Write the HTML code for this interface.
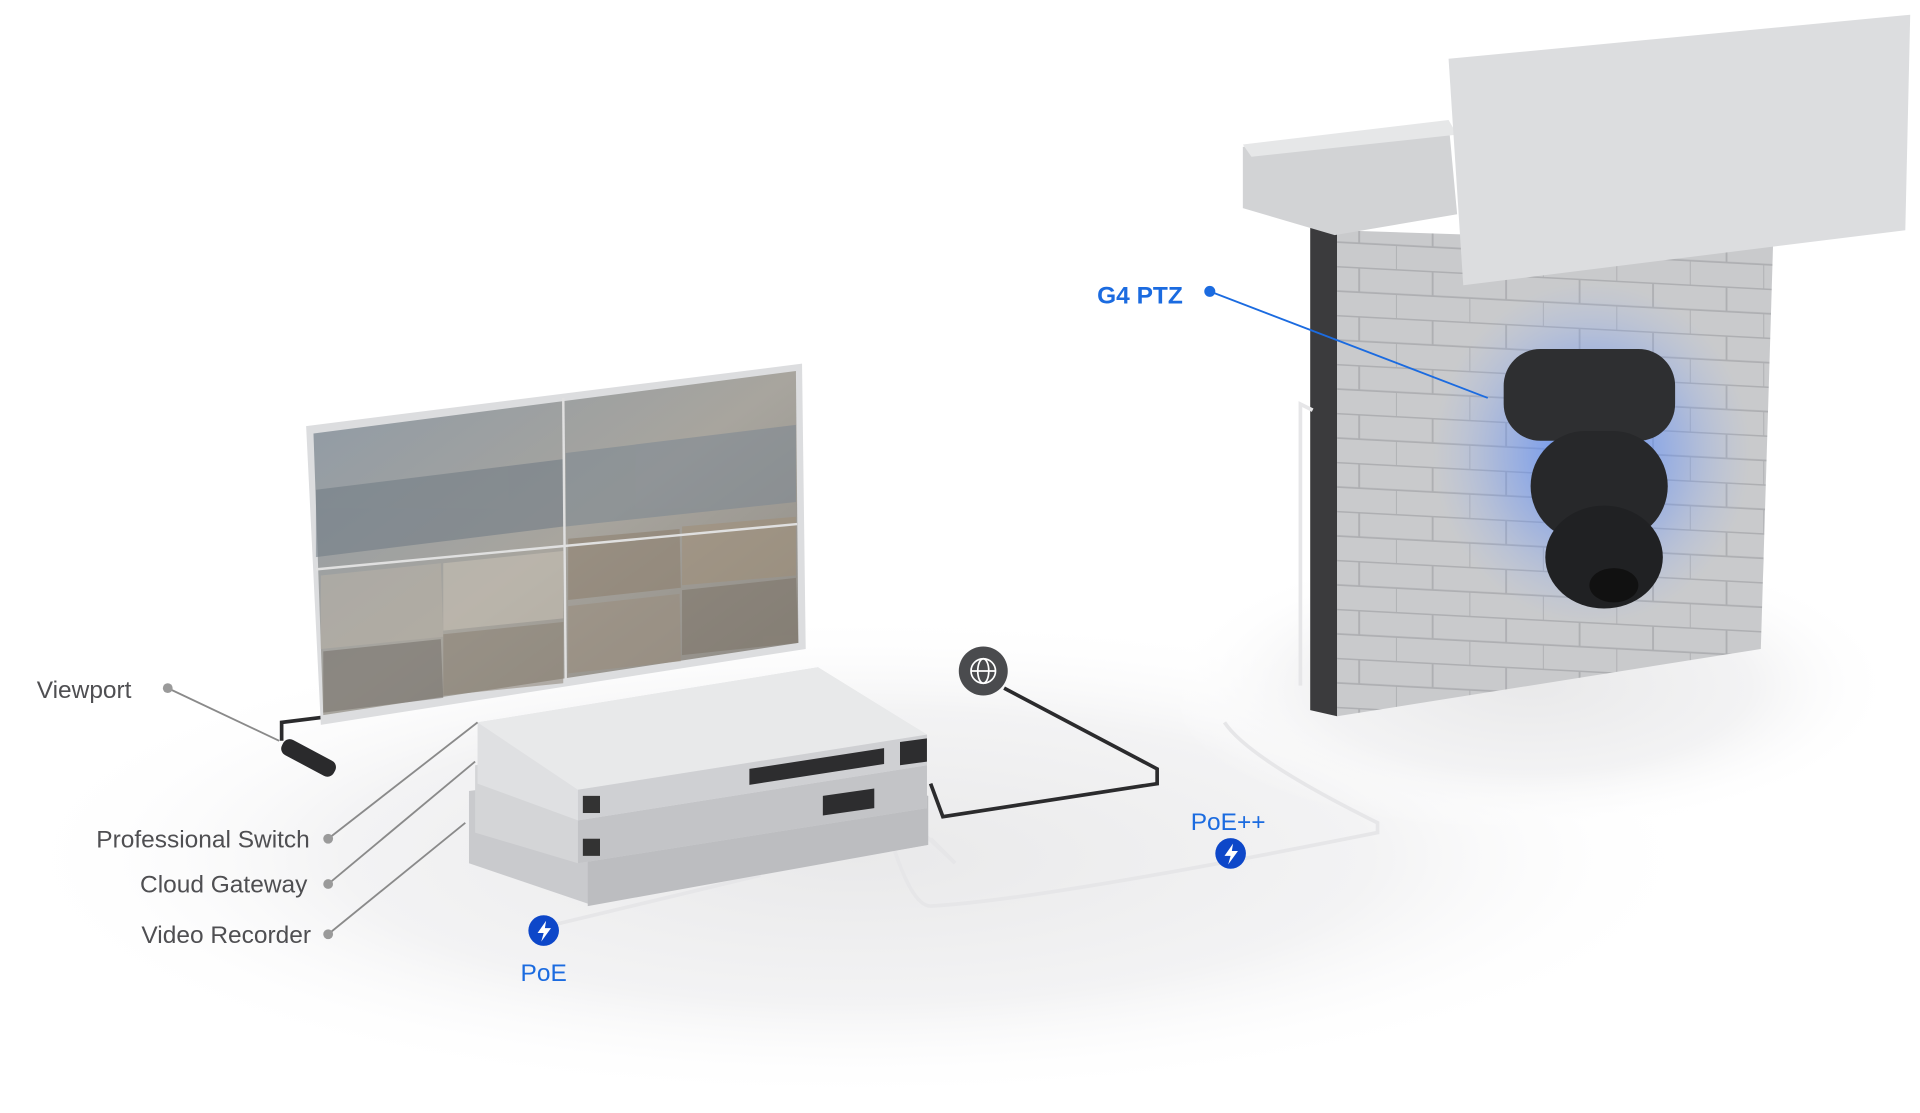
<!DOCTYPE html>
<html><head><meta charset="utf-8">
<style>
html,body{margin:0;padding:0;background:#fff;width:1920px;height:1113px;overflow:hidden}
svg{display:block}
text{font-family:"Liberation Sans",sans-serif}
</style></head>
<body>
<svg width="1920" height="1113" viewBox="0 0 1568 909" preserveAspectRatio="none" xmlns="http://www.w3.org/2000/svg">
<defs>
<radialGradient id="floor" cx="50%" cy="50%" r="50%">
<stop offset="0" stop-color="#e9e9ea"/><stop offset="0.6" stop-color="#f3f3f4"/><stop offset="1" stop-color="#fff" stop-opacity="0"/></radialGradient>
<radialGradient id="glow" cx="50%" cy="50%" r="50%">
<stop offset="0" stop-color="#3d7bff" stop-opacity="0.8"/><stop offset="0.6" stop-color="#5b8cff" stop-opacity="0.3"/><stop offset="1" stop-color="#8fb0ff" stop-opacity="0"/></radialGradient>
<linearGradient id="scr" x1="0" y1="0" x2="1" y2="1"><stop offset="0" stop-color="#8e9aa6"/><stop offset="0.5" stop-color="#a8a59e"/><stop offset="1" stop-color="#8a8680"/></linearGradient>
<pattern id="bricks" width="60" height="40" patternUnits="userSpaceOnUse" patternTransform="skewY(3)">
<rect width="60" height="40" fill="#c9cacc"/>
<path d="M0 0.5H60M0 20.5H60M30 0V20M0 20V40" stroke="#aeafb2" stroke-width="1.5" fill="none"/></pattern>
</defs>
<rect width="1568" height="909" fill="#fff"/>
<ellipse cx="700" cy="700" rx="700" ry="200" fill="url(#floor)"/>
<ellipse cx="1250" cy="560" rx="300" ry="120" fill="url(#floor)"/>

<!-- wall -->
<polygon points="1070,185 1092,188 1092,585 1070,580" fill="#3b3b3d"/>
<polygon points="1092,188 1448,200 1438,530 1092,585" fill="url(#bricks)"/>
<polygon points="1015,120 1183,100 1190,175 1090,192 1015,170" fill="#d2d3d5"/>
<polygon points="1015,118 1183,98 1190,110 1022,128" fill="#e6e7e8"/>
<polygon points="1183,48 1560,12 1556,188 1195,233" fill="#dcdddf"/>

<!-- camera -->
<ellipse cx="1300" cy="370" rx="130" ry="140" fill="url(#glow)"/>
<rect x="1228" y="285" width="140" height="75" rx="30" fill="#2e2f31"/>
<rect x="1250" y="352" width="112" height="90" rx="45" fill="#27282a"/>
<ellipse cx="1310" cy="455" rx="48" ry="42" fill="#202123"/>
<ellipse cx="1318" cy="478" rx="20" ry="14" fill="#111"/>

<!-- cables -->
<path d="M1000,590 Q1020,620 1125,672 L1125,680 Q850,735 760,740 Q740,740 718,650" fill="none" stroke="#e6e6e8" stroke-width="3"/>
<path d="M1062,560 L1062,330 L1072,335" fill="none" stroke="#e6e6e8" stroke-width="3"/>
<path d="M820,562 L945,628 L945,640 L770,667 L760,640" fill="none" stroke="#2b2b2d" stroke-width="3"/>
<path d="M230,605 L230,590 L270,585" fill="none" stroke="#2b2b2d" stroke-width="3"/>
<path d="M445,757 L620,715 L640,650 M700,630 L780,705 L760,685" fill="none" stroke="#e6e6e8" stroke-width="3"/>

<!-- monitor -->
<polygon points="250,348 655,297 658,530 262,592" fill="#dcdddf"/>
<polygon points="256,354 650,303 652,525 264,584" fill="url(#scr)"/>
<g opacity="0.55">
<polygon points="258,400 460,375 460,430 258,455" fill="#6f7a84"/>
<polygon points="462,370 650,347 650,410 462,430" fill="#7c8791"/>
<polygon points="262,470 360,460 362,520 262,530" fill="#b8b2a8"/>
<polygon points="362,460 460,450 460,505 362,515" fill="#c9c2b6"/>
<polygon points="464,440 555,432 556,480 464,490" fill="#8d7e6c"/>
<polygon points="557,430 650,422 650,470 557,478" fill="#a08f78"/>
<polygon points="464,495 555,485 556,540 464,550" fill="#9a8d7d"/>
<polygon points="557,482 650,472 652,525 557,535" fill="#7d7468"/>
<polygon points="264,532 360,522 362,570 264,582" fill="#75706a"/>
<polygon points="362,518 460,508 460,558 362,568" fill="#8c8274"/>
</g>
<line x1="460" y1="325" x2="462" y2="555" stroke="#e0e0e0" stroke-width="2"/>
<line x1="258" y1="465" x2="651" y2="428" stroke="#e0e0e0" stroke-width="2"/>
<rect x="228" y="612" width="48" height="14" rx="6" transform="rotate(28 252 619)" fill="#2a2a2c"/>

<!-- devices -->
<polygon points="383,646 660,610 758,650 758,690 480,738 383,705" fill="#c9cacd"/>
<polygon points="480,695 758,650 758,690 480,740" fill="#bcbdc0"/>
<polygon points="388,625 660,585 757,618 757,660 472,705 388,680" fill="#d4d5d7"/>
<polygon points="472,665 757,618 757,660 472,705" fill="#c3c4c7"/>
<polygon points="390,590 668,545 757,600 757,625 472,670 390,640" fill="#dfe0e2"/>
<polygon points="390,590 668,545 757,600 472,645" fill="#e8e9ea"/>
<polygon points="472,645 757,600 757,625 472,670" fill="#cfd0d3"/>
<rect x="476" y="650" width="14" height="14" fill="#333"/>
<rect x="476" y="685" width="14" height="14" fill="#333"/>
<polygon points="612,628 722,611 722,624 612,641" fill="#2d2d2f"/>
<polygon points="672,650 714,644 714,660 672,666" fill="#2d2d2f"/>
<polygon points="735,606 757,603 757,622 735,625" fill="#2d2d2f"/>

<!-- leader lines -->
<g stroke="#8a8a8a" stroke-width="1.5" fill="none">
<path d="M137,562 L228,605"/><path d="M268,685 L390,590"/><path d="M268,722 L388,622"/><path d="M268,763 L380,672"/>
</g>
<g fill="#9a9a9a"><circle cx="137" cy="562" r="4"/><circle cx="268" cy="685" r="4"/><circle cx="268" cy="722" r="4"/><circle cx="268" cy="763" r="4"/></g>
<line x1="988" y1="238" x2="1215" y2="325" stroke="#1b6be0" stroke-width="1.5"/>
<circle cx="988" cy="238" r="4.5" fill="#1b6be0"/>

<!-- labels -->
<g font-size="20" fill="#4f4f52">
<text x="30" y="570">Viewport</text>
<text x="253" y="692" text-anchor="end">Professional Switch</text>
<text x="251" y="729" text-anchor="end">Cloud Gateway</text>
<text x="254" y="770" text-anchor="end">Video Recorder</text>
</g>
<text x="896" y="248" font-size="20" font-weight="bold" fill="#1b6be0">G4 PTZ</text>
<text x="444" y="801" font-size="20" fill="#1b6be0" text-anchor="middle">PoE</text>
<text x="1003" y="678" font-size="20" fill="#1b6be0" text-anchor="middle">PoE++</text>

<!-- icons -->
<circle cx="444" cy="760" r="12.5" fill="#0d47c9"/>
<path d="M446,752 L439,762 L444,762 L442,769 L450,758 L445,758 Z" fill="#fff"/>
<circle cx="1005" cy="697" r="12.5" fill="#0d47c9"/>
<path d="M1007,689 L1000,699 L1005,699 L1003,706 L1011,695 L1006,695 Z" fill="#fff"/>
<circle cx="803" cy="548" r="20" fill="#4a4b4e"/>
<g stroke="#fff" stroke-width="1.4" fill="none"><circle cx="803" cy="548" r="10"/><ellipse cx="803" cy="548" rx="4.5" ry="10"/><line x1="793" y1="548" x2="813" y2="548"/></g>
</svg>
</body></html>
